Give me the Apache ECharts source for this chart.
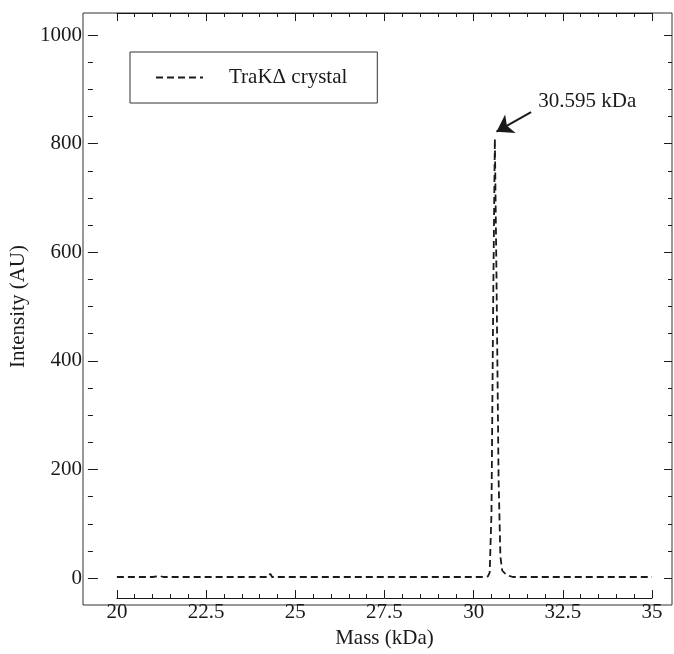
<!DOCTYPE html>
<html>
<head>
<meta charset="utf-8">
<script src="https://cdn.jsdelivr.net/npm/echarts@6/dist/echarts.min.js"></script>
<style>
html, body { margin: 0; padding: 0; background: #fff; }
#main { width: 674px; height: 654px; }
</style>
</head>
<body>
<div id="main"></div>
<script>
// spectrum (mass in kDa, intensity in AU)
var mass = [20, 20.5, 21, 21.2, 21.3, 21.5, 21.55, 21.65, 22, 23, 24, 24.25, 24.3, 24.35, 25, 26, 27, 28, 29, 30,
            30.3, 30.4, 30.45, 30.5, 30.55, 30.595, 30.64, 30.7, 30.75, 30.8, 30.9, 31.0, 31.1, 31.3,
            32, 33, 33.45, 33.5, 33.55, 34, 35];
var intensity = [2, 2, 2, 4, 2, 2, 5, 2, 2, 2, 2, 2, 8, 2, 2, 2, 2, 2, 2, 2,
                 2, 3, 10, 120, 520, 809, 560, 180, 40, 14, 7, 4, 2, 2,
                 2, 2, 2, 4, 2, 2, 2];
var seriesName = 'TraKΔ crystal';
var peakLabel = '30.595 kDa';
var xTicks = [20, 35, 2.5];   // min, max, step
var yTicks = [0, 1000, 200];

var font = "'Liberation Serif', 'Times New Roman', serif";
var ink = '#1a1a1a';

var points = [];
for (let i = 0; i < mass.length; i++) {
    points.push([mass[i], intensity[i]]);
}

var myChart = echarts.init(document.getElementById('main'));

var tickStyle = { color: ink, width: 1 };
var option = {
    animation: false,
    textStyle: { fontFamily: font },
    grid: [
        { left: 112, right: 22, top: 35, bottom: 69 },
        { left: 83, right: 2, top: 13, bottom: 49, show: true, borderColor: '#333', borderWidth: 1, z: 0 }
    ],
    legend: {
        data: [seriesName],
        left: 130,
        top: 52,
        padding: [15, 30, 15, 25],
        borderColor: '#333',
        borderWidth: 1,
        borderRadius: 0,
        itemWidth: 47,
        itemHeight: 14,
        itemStyle: { color: 'rgba(0,0,0,0)', borderWidth: 0 },
        textStyle: { fontFamily: font, fontSize: 21, color: ink, padding: [0, 0, 0, 21] }
    },
    xAxis: [
        {
            type: 'value', gridIndex: 0, position: 'bottom', offset: 20,
            min: xTicks[0], max: xTicks[1], interval: xTicks[2],
            name: 'Mass (kDa)', nameLocation: 'middle', nameGap: 28,
            nameTextStyle: { fontFamily: font, fontSize: 21, color: ink },
            axisLine: { show: true, onZero: false, lineStyle: { color: ink, width: 1 } },
            axisTick: { show: true, inside: true, length: 8, lineStyle: tickStyle },
            minorTick: { show: true, splitNumber: 5, length: 4, lineStyle: tickStyle },
            axisLabel: { fontFamily: font, fontSize: 21, color: ink, margin: 4 },
            splitLine: { show: false }
        },
        {
            type: 'value', gridIndex: 0, position: 'top', offset: 22,
            min: xTicks[0], max: xTicks[1], interval: xTicks[2],
            axisLine: { show: true, onZero: false, lineStyle: { color: ink, width: 1 } },
            axisTick: { show: true, inside: true, length: 8, lineStyle: tickStyle },
            minorTick: { show: true, splitNumber: 5, length: 4, lineStyle: tickStyle },
            axisLabel: { show: false },
            splitLine: { show: false }
        },
        { type: 'value', gridIndex: 1, show: false, min: 0, max: 1 }
    ],
    yAxis: [
        {
            type: 'value', gridIndex: 0, position: 'left', offset: 29,
            min: yTicks[0], max: yTicks[1], interval: yTicks[2],
            name: 'Intensity (AU)', nameLocation: 'middle', nameGap: 42,
            nameTextStyle: { fontFamily: font, fontSize: 21, color: ink },
            axisLine: { show: false, onZero: false },
            axisTick: { show: true, inside: true, length: 10, lineStyle: tickStyle },
            minorTick: { show: true, splitNumber: 4, length: 5, lineStyle: tickStyle },
            axisLabel: {
                fontFamily: font, fontSize: 21, color: ink, margin: 6,
                formatter: function (v) { return String(v); }
            },
            splitLine: { show: false }
        },
        {
            type: 'value', gridIndex: 0, position: 'right', offset: 20,
            min: yTicks[0], max: yTicks[1], interval: yTicks[2],
            axisLine: { show: false, onZero: false },
            axisTick: { show: true, inside: true, length: 8, lineStyle: tickStyle },
            minorTick: { show: true, splitNumber: 4, length: 4, lineStyle: tickStyle },
            axisLabel: { show: false },
            splitLine: { show: false }
        },
        { type: 'value', gridIndex: 1, show: false, min: 0, max: 1 }
    ],
    series: [
        {
            name: seriesName,
            type: 'line',
            xAxisIndex: 0,
            yAxisIndex: 0,
            data: points,
            showSymbol: false,
            symbol: 'none',
            lineStyle: { color: ink, width: 1.8, type: [7, 4] },
            itemStyle: { color: ink },
            markLine: {
                silent: true,
                symbol: ['none', 'arrow'],
                symbolSize: 16,
                label: { show: false },
                lineStyle: { color: ink, width: 2, type: 'solid' },
                data: [[{ coord: [31.61, 858] }, { coord: [30.64, 822] }]]
            },
            markPoint: {
                silent: true,
                symbol: 'circle',
                symbolSize: 1,
                itemStyle: { color: 'rgba(0,0,0,0)' },
                label: {
                    show: true, position: 'right', distance: 0,
                    formatter: peakLabel,
                    fontFamily: font, fontSize: 21, color: ink
                },
                data: [{ coord: [31.8, 878] }]
            }
        }
    ]
};
myChart.setOption(option);
</script>
</body>
</html>
